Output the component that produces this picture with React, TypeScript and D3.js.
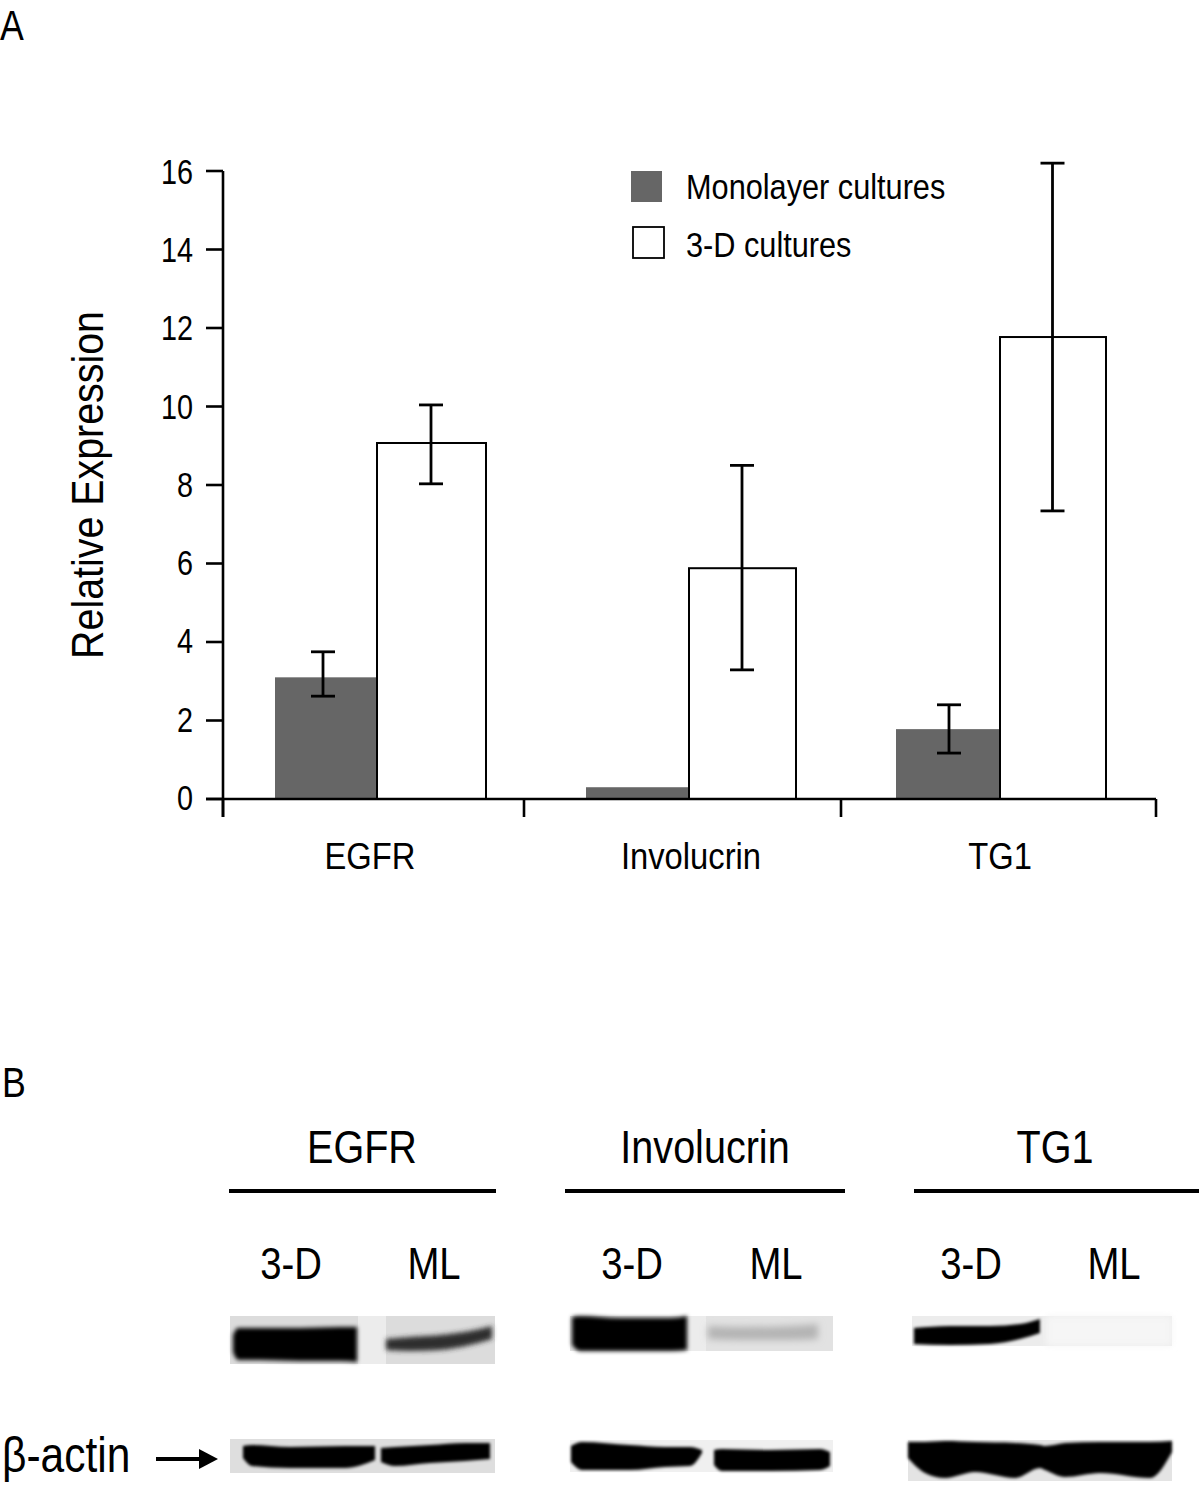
import React from "react";
import * as d3 from "d3";

const categories = ["EGFR", "Involucrin", "TG1"];
const monolayer = [3.1, 0.3, 1.78];
const monolayerHigh = [3.75, null, 2.4];
const monolayerLow = [2.62, null, 1.17];
const threeD = [9.07, 5.88, 11.77];
const threeDHigh = [10.04, 8.5, 16.2];
const threeDLow = [8.03, 3.29, 7.34];
const yTicks = [0, 2, 4, 6, 8, 10, 12, 14, 16];
const seriesNames = ["Monolayer cultures", "3-D cultures"];
const laneNames = ["3-D", "ML"];

// pixel layout of the figure
const y = d3.scaleLinear().domain([0, 16]).range([799, 171]);
const catStarts = [275, 586, 896];
const catMid = [377, 689, 1000];
const catEnds = [486, 796, 1106];
const catTickX = [223, 524, 841, 1156];
const catLabelX = [370, 691, 1000];
const monoErrX = [323, 0, 949];
const FONT = "'Liberation Sans', Arial, sans-serif";

function T({ x, y, size, sx = 0.8, anchor = "start", rotate = 0, children }: any) {
  return (
    <text
      transform={`translate(${x},${y}) rotate(${rotate}) scale(${sx},1)`}
      fontFamily={FONT}
      fontSize={size}
      textAnchor={anchor}
      fill="#000"
    >
      {children}
    </text>
  );
}

function ErrBar({ cx, hi, lo }: any) {
  return (
    <g stroke="#000" strokeWidth={2.8} fill="none">
      <line x1={cx} x2={cx} y1={y(hi)} y2={y(lo)} />
      <line x1={cx - 12} x2={cx + 12} y1={y(hi)} y2={y(hi)} />
      <line x1={cx - 12} x2={cx + 12} y1={y(lo)} y2={y(lo)} />
    </g>
  );
}

// western-blot panels: background strips and bands, each band given as [x, top, bottom] stations
const panels = [
  { x: 230, y: 1316, w: 265, h: 48, fill: "#dcdcdc", gap: [358, 386] },
  { x: 570, y: 1316, w: 263, h: 35, fill: "#e2e2e2", gap: [688, 706] },
  { x: 912, y: 1316, w: 260, h: 30, fill: "#ececec", gap: null },
  { x: 230, y: 1439, w: 265, h: 34, fill: "#dedede", gap: null },
  { x: 570, y: 1440, w: 263, h: 32, fill: "#f0f0f0", gap: null },
  { x: 908, y: 1440, w: 264, h: 41, fill: "#e4e4e4", gap: null },
];
const bands: { color: string; blur: string; pts: number[][] }[] = [
  { color: "#000", blur: "b2", pts: [[233, 1335, 1352], [238, 1328, 1360], [260, 1328, 1360], [300, 1328, 1361], [340, 1327, 1361], [357, 1327, 1362]] },
  { color: "#2e2e2e", blur: "b3", pts: [[386, 1339, 1350], [410, 1337, 1351], [440, 1335, 1350], [470, 1331, 1345], [492, 1326, 1339]] },
  { color: "#000", blur: "b2", pts: [[572, 1317, 1345], [580, 1316, 1351], [620, 1318, 1351], [670, 1318, 1351], [687, 1316, 1350]] },
  { color: "#b4b4b4", blur: "b4", pts: [[708, 1326, 1339], [740, 1327, 1340], [790, 1326, 1340], [818, 1324, 1339]] },
  { color: "#000", blur: "b15", pts: [[914, 1328, 1344], [950, 1326, 1345], [990, 1326, 1344], [1020, 1324, 1339], [1040, 1319, 1333]] },
  { color: "#f6f6f6", blur: "b4", pts: [[1046, 1316, 1346], [1172, 1316, 1346]] },
  { color: "#000", blur: "b15", pts: [[243, 1446, 1458], [252, 1445, 1466], [290, 1447, 1468], [345, 1446, 1468], [375, 1446, 1460]] },
  { color: "#000", blur: "b15", pts: [[381, 1448, 1462], [395, 1447, 1466], [430, 1445, 1463], [465, 1443, 1461], [490, 1443, 1459]] },
  { color: "#000", blur: "b15", pts: [[571, 1446, 1462], [582, 1442, 1470], [630, 1445, 1470], [665, 1447, 1467], [690, 1447, 1466], [702, 1450, 1453]] },
  { color: "#000", blur: "b15", pts: [[714, 1450, 1465], [722, 1449, 1471], [770, 1450, 1471], [820, 1449, 1470], [830, 1452, 1466]] },
  { color: "#000", blur: "b15", pts: [[908, 1442, 1458], [925, 1442, 1473], [945, 1441, 1478], [975, 1442, 1472], [1015, 1443, 1478], [1040, 1445, 1468], [1045, 1446, 1470], [1065, 1443, 1477], [1100, 1442, 1473], [1150, 1442, 1478], [1172, 1441, 1452]] },
];
const bandArea = d3
  .area<number[]>()
  .x((d) => d[0])
  .y0((d) => d[1])
  .y1((d) => d[2])
  .curve(d3.curveMonotoneX);

const rules = [[229, 496], [565, 845], [914, 1199]];
const ruleLabelX = [362, 705, 1055];
const laneLabelX = [[291, 434], [632, 776], [971, 1114]];

export default function App() {
  return (
    <svg
      width={1200}
      height={1489}
      style={{ position: "absolute", left: 0, top: 0, background: "#fff" }}
    >
      <defs>
        {[["b1", 1], ["b15", 1.5], ["b2", 2], ["b3", 2.6], ["b4", 3.5]].map(([id, s]) => (
          <filter key={id as string} id={id as string} x="-10%" y="-40%" width="120%" height="180%">
            <feGaussianBlur stdDeviation={s as number} />
          </filter>
        ))}
      </defs>

      <T x={0} y={40} size={42} sx={0.85}>A</T>

      {/* legend */}
      <rect x={631} y={171} width={31} height={31} fill="#666" />
      <rect x={633} y={227} width={31} height={31} fill="#fff" stroke="#000" strokeWidth={1.8} />
      <T x={686} y={199} size={36} sx={0.853}>{seriesNames[0]}</T>
      <T x={686} y={257} size={36} sx={0.853}>{seriesNames[1]}</T>

      {/* bars */}
      {categories.map((c, i) => (
        <g key={c}>
          <rect x={catStarts[i]} y={y(monolayer[i])} width={catMid[i] - catStarts[i]} height={y(0) - y(monolayer[i])} fill="#666" />
          <rect x={catMid[i]} y={y(threeD[i])} width={catEnds[i] - catMid[i]} height={y(0) - y(threeD[i])} fill="#fff" stroke="#000" strokeWidth={2} />
          {monolayerHigh[i] != null && (
            <ErrBar cx={monoErrX[i]} hi={monolayerHigh[i]} lo={monolayerLow[i]} />
          )}
          <ErrBar cx={(catMid[i] + catEnds[i]) / 2 - 0.5} hi={threeDHigh[i]} lo={threeDLow[i]} />
          <T x={catLabelX[i]} y={869} size={37} sx={0.885} anchor="middle">{c}</T>
        </g>
      ))}

      {/* axes */}
      <g stroke="#000" strokeWidth={2.6}>
        <line x1={223} x2={223} y1={y(16)} y2={817} />
        <line x1={206} x2={1156} y1={y(0)} y2={y(0)} />
        {yTicks.map((t) => (
          <line key={t} x1={206} x2={223} y1={y(t)} y2={y(t)} />
        ))}
        {catTickX.map((x) => (
          <line key={x} x1={x} x2={x} y1={y(0)} y2={817} />
        ))}
      </g>
      {yTicks.map((t) => (
        <T key={t} x={193} y={y(t) + 11 + t * 0.12} size={36} anchor="end">{t}</T>
      ))}
      <T x={103} y={485} size={45} sx={0.875} anchor="middle" rotate={-90}>Relative Expression</T>

      <T x={2} y={1097} size={42} sx={0.85}>B</T>

      {/* headers */}
      {categories.map((c, i) => (
        <g key={c}>
          <T x={ruleLabelX[i]} y={1163} size={46} sx={0.86} anchor="middle">{c}</T>
          <line x1={rules[i][0]} x2={rules[i][1]} y1={1191} y2={1191} stroke="#000" strokeWidth={4} />
          {laneNames.map((l, j) => (
            <T key={l} x={laneLabelX[i][j]} y={1279} size={44} sx={0.87} anchor="middle">{l}</T>
          ))}
        </g>
      ))}

      {/* blots */}
      {panels.map((p, i) => (
        <g key={i}>
          <rect x={p.x} y={p.y} width={p.w} height={p.h} fill={p.fill} />
          {p.gap && <rect x={p.gap[0]} y={p.y} width={p.gap[1] - p.gap[0]} height={p.h} fill="#ececec" />}
        </g>
      ))}
      {bands.map((b, i) => (
        <path key={i} d={bandArea(b.pts) as string} fill={b.color} filter={`url(#${b.blur})`} />
      ))}

      <T x={2} y={1472} size={50} sx={0.85}>β-actin</T>
      <line x1={156} x2={204} y1={1459} y2={1459} stroke="#000" strokeWidth={4} />
      <path d={d3.line()([[199, 1449], [218, 1459], [199, 1469]]) + "Z"} fill="#000" />
    </svg>
  );
}
